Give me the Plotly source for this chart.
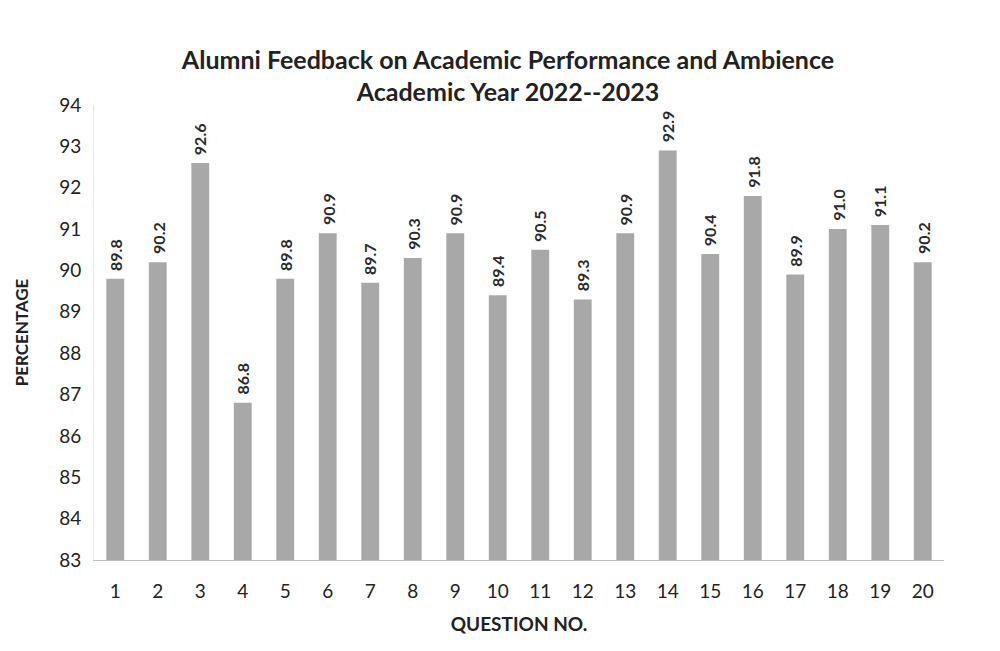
import plotly.graph_objects as go

questions = [str(i) for i in range(1, 21)]
percentages = [89.8, 90.2, 92.6, 86.8, 89.8, 90.9, 89.7, 90.3, 90.9, 89.4,
               90.5, 89.3, 90.9, 92.9, 90.4, 91.8, 89.9, 91.0, 91.1, 90.2]
y_ticks = list(range(83, 95))

FONT = "Lato, Open Sans, sans-serif"

fig = go.Figure()
fig.add_trace(go.Bar(
    x=questions,
    y=percentages,
    width=0.42,
    marker=dict(color="#a8a8a8", line=dict(width=0)),
    hoverinfo="x+y",
))

# category axis: annotations positioned by category index
for idx, v in enumerate(percentages):
    fig.add_annotation(
        x=idx, y=v, xref="x", yref="y",
        text=f"{v:.1f}", textangle=-90,
        showarrow=False, xanchor="center", yanchor="bottom", yshift=6,
        font=dict(family=FONT, size=16, color="#2a2a2a", weight="bold"),
    )

fig.update_layout(
    width=1000, height=651,
    paper_bgcolor="white", plot_bgcolor="white",
    margin=dict(l=86, r=64, t=97, b=99),
    title=dict(
        text="Alumni Feedback on Academic Performance and Ambience<br>Academic Year 2022--2023",
        x=0.5, xanchor="center", y=0.907, yanchor="top",
        font=dict(family=FONT, size=25, color="#222222", weight="bold"),
    ),
    showlegend=False,
)
fig.update_xaxes(
    type="category",
    range=[-0.5, len(questions) - 0.5],
    title=dict(text="QUESTION NO.", font=dict(family=FONT, size=19, color="#222222", weight="bold"), standoff=16),
    tickfont=dict(family=FONT, size=19, color="#222222"),
    showline=True, linecolor="#bfbfbf", linewidth=1,
    ticks="outside", ticklen=14, tickcolor="rgba(0,0,0,0)",
    showgrid=False,
)
fig.update_yaxes(
    title=dict(text="PERCENTAGE", font=dict(family=FONT, size=17, color="#222222", weight="bold"), standoff=26),
    tickfont=dict(family=FONT, size=19, color="#222222"),
    range=[83, 94], tickvals=y_ticks, ticktext=[str(t) for t in y_ticks],
    tickmode="array",
    showline=True, linecolor="#e6e6e6", linewidth=1,
    showgrid=False, zeroline=False,
    ticks="outside", ticklen=8, tickcolor="rgba(0,0,0,0)",
)

fig.write_html("out.html")
